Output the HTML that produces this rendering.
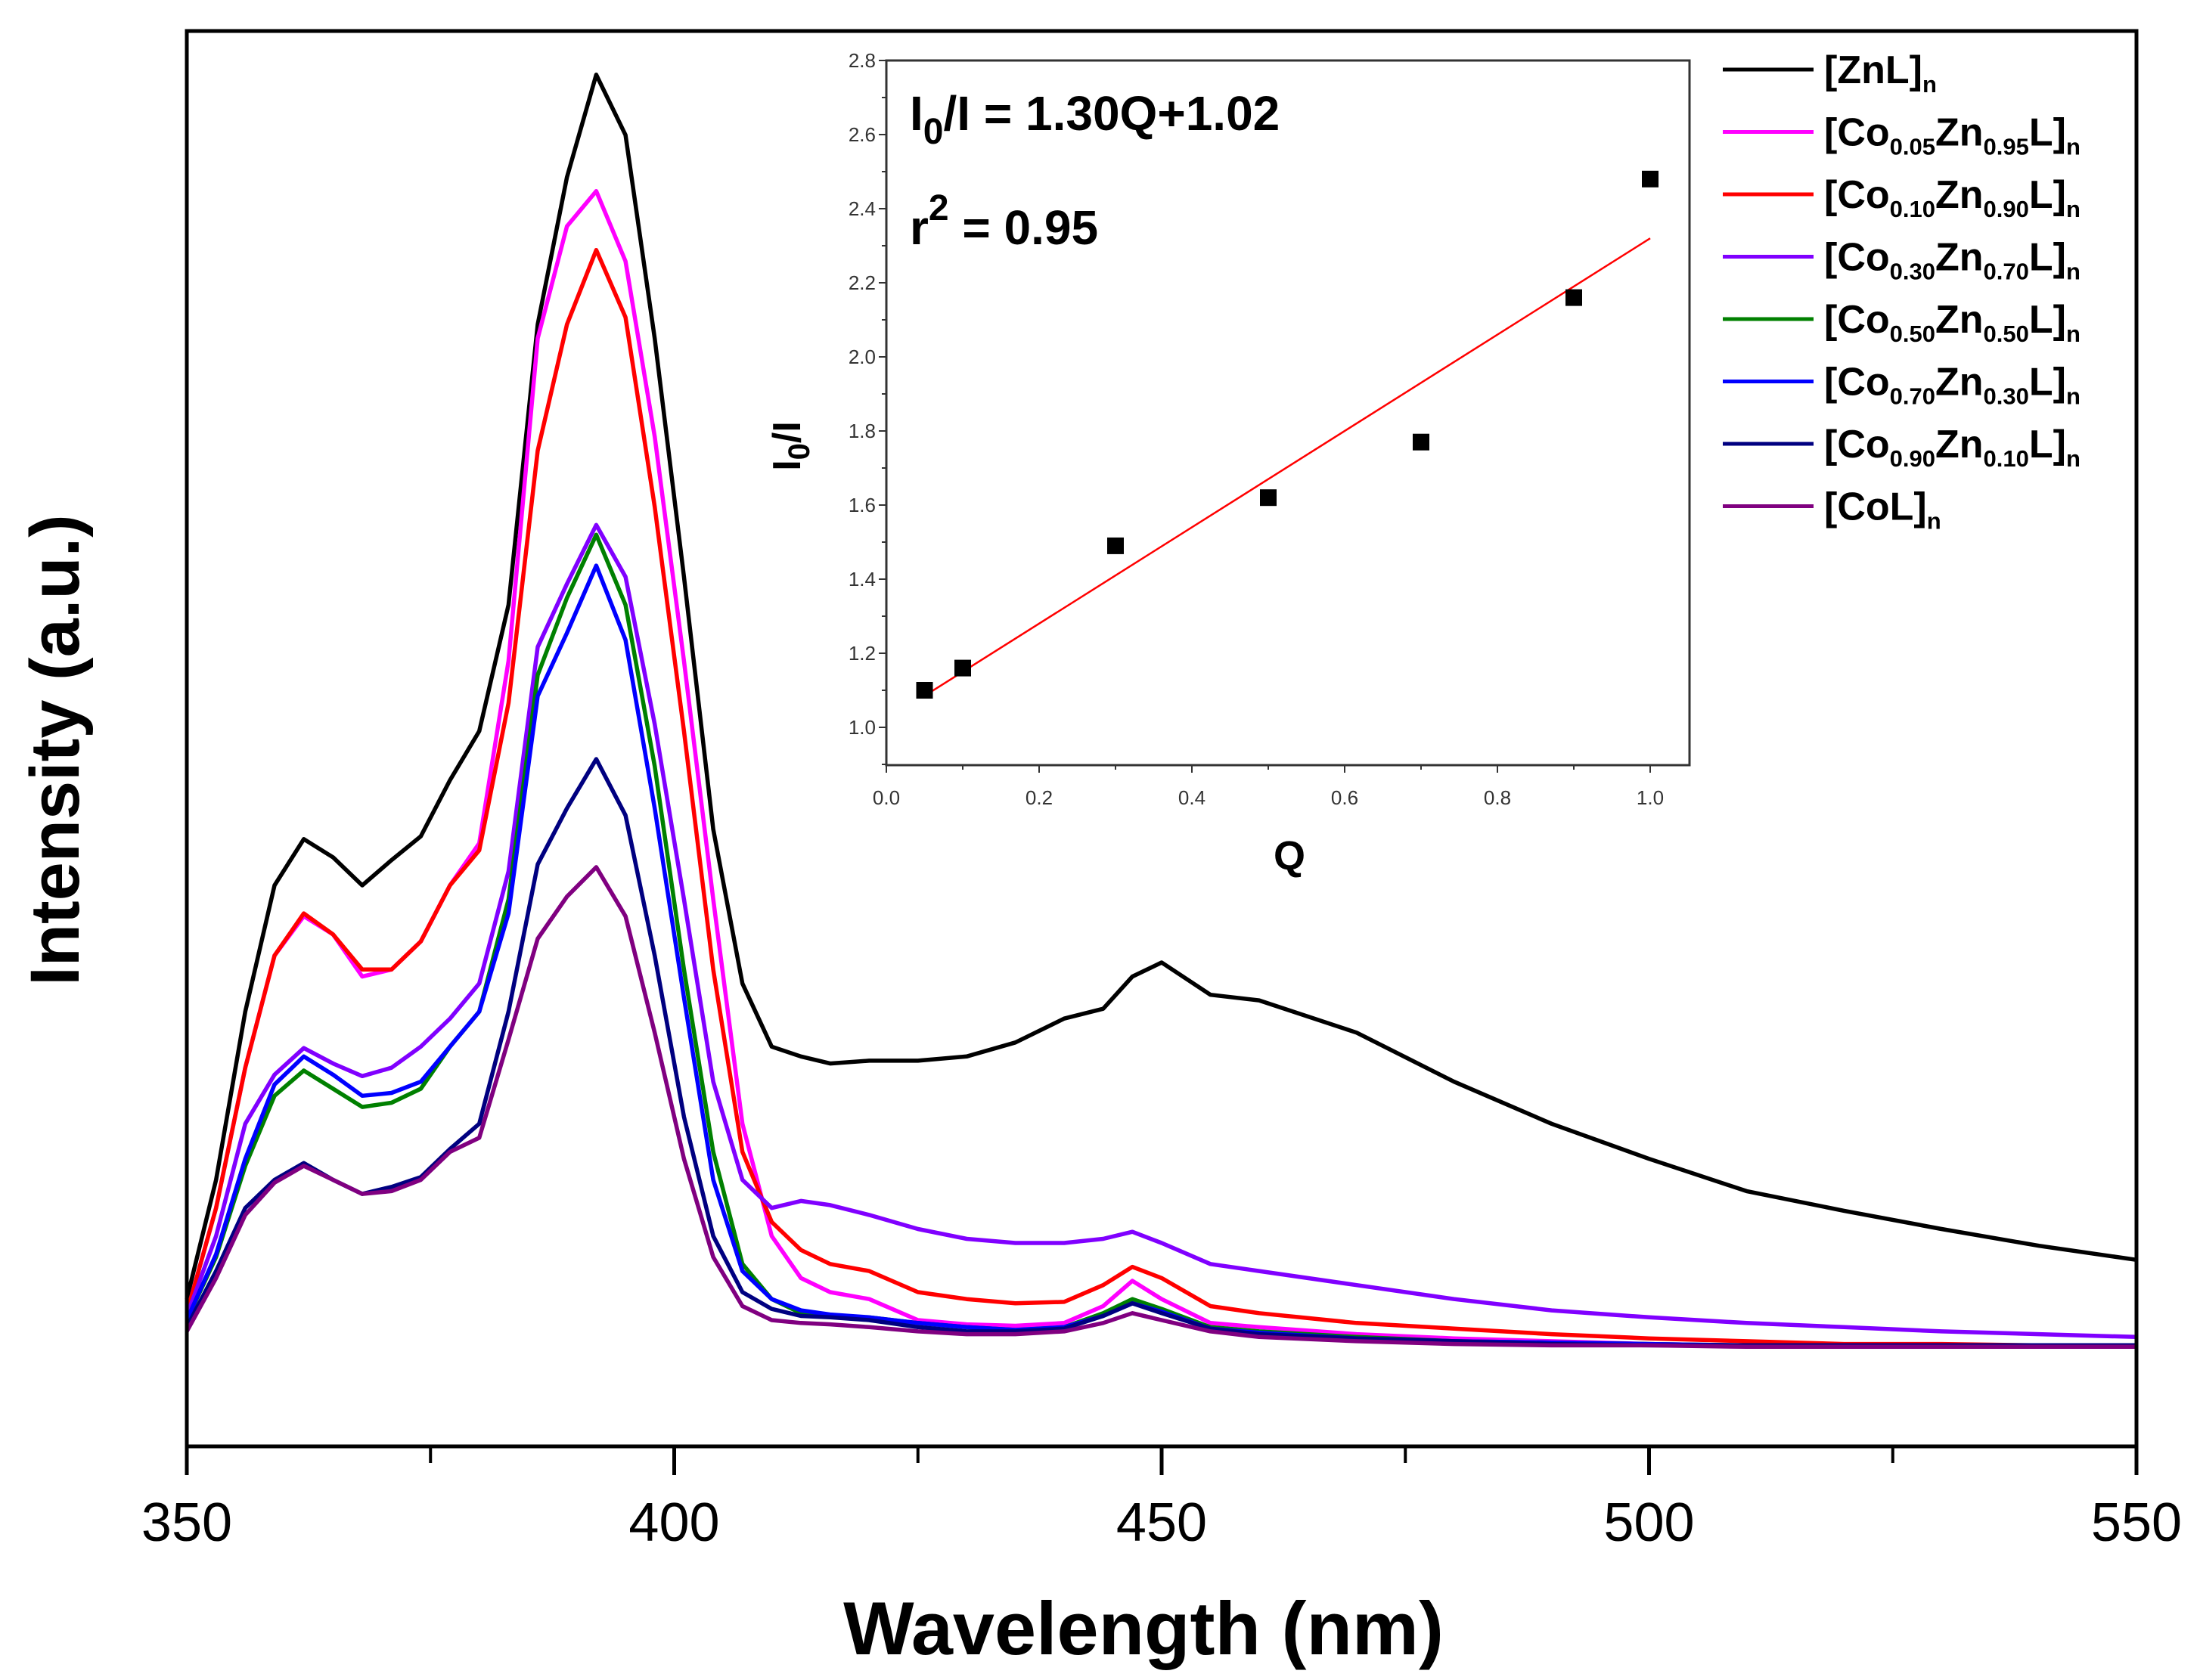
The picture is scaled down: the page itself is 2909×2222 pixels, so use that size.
<!DOCTYPE html>
<html><head><meta charset="utf-8"><style>
html,body{margin:0;padding:0;background:#fff}
svg{display:block}
text{font-family:"Liberation Sans",sans-serif}
</style></head><body>
<svg id="chart" width="2909" height="2222" viewBox="0 0 2909 2222" xmlns="http://www.w3.org/2000/svg"></svg>
<script>
const wavelengths=[350,353,356,359,362,365,368,371,374,377,380,383,386,389,392,395,398,401,404,407,410,413,416,420,425,430,435,440,444,447,450,455,460,470,480,490,500,510,520,530,540,550];
const seriesNames=["ZnL","Co0.05","Co0.10","Co0.30","Co0.50","Co0.70","Co0.90","CoL"];
const seriesColors=["#000000","#ff00ff","#ff0000","#8000ff","#008000","#0000ff","#000080","#800080"];
// values stored as ref-pixel y positions from source image (converted to intensity below)
const sZnL=[925,840,720,630,597,610,630,612,595,555,520,430,230,125,52,95,240,410,590,700,745,752,757,755,755,752,742,725,718,695,685,708,712,735,770,800,825,848,862,875,887,897];
const sCo05=[935,860,760,680,652,665,695,690,670,630,600,470,240,160,135,185,310,470,640,800,880,910,920,925,940,943,944,942,930,912,925,942,945,950,953,955,957,958,958,958,958,958];
const sCo10=[935,860,760,680,650,665,690,690,670,630,605,500,320,230,177,225,360,520,690,820,870,890,900,905,920,925,928,927,915,902,910,930,935,942,946,950,953,955,957,957,958,958];
const sCo30=[937,880,800,765,746,757,766,760,745,725,700,620,460,415,373,410,515,640,770,840,860,855,858,865,875,882,885,885,882,877,885,900,905,915,925,933,938,942,945,948,950,952];
const sCo50=[940,895,830,780,762,775,788,785,775,745,720,640,480,425,380,430,545,690,820,900,925,935,937,938,942,945,947,945,935,925,932,945,948,952,955,956,957,958,958,958,958,958];
const sCo70=[940,893,825,772,752,765,780,778,770,745,720,650,495,450,402,455,575,710,840,905,925,933,936,938,942,945,947,945,937,928,934,946,949,953,955,956,957,958,958,958,958,958];
const sCo90=[945,905,860,840,828,840,850,845,838,818,800,720,615,575,540,580,680,795,880,920,932,937,938,940,945,948,948,946,937,928,935,946,950,953,955,957,958,958,958,958,958,958];
const sCoL=[948,910,865,842,830,840,850,848,840,820,810,740,668,638,617,652,735,825,895,930,940,942,943,945,948,950,950,948,942,935,940,948,952,955,957,958,958,959,959,959,959,959];
const allSeries=[sZnL,sCo05,sCo10,sCo30,sCo50,sCo70,sCo90,sCoL];
const xTicks=[350,400,450,500,550];
const xMinor=[375,425,475,525];
const insetQ=[0.05,0.1,0.3,0.5,0.7,0.9,1.0];
const insetRatio=[1.10,1.16,1.49,1.62,1.77,2.16,2.48];
const insetYTicks=[1.0,1.2,1.4,1.6,1.8,2.0,2.2,2.4,2.6,2.8];
const insetXTicks=[0.0,0.2,0.4,0.6,0.8,1.0];
const fitSlope=1.30, fitIntercept=1.02;

const NS="http://www.w3.org/2000/svg";
const svg=document.getElementById('chart');
function mk(tag,attrs,parent){const e=document.createElementNS(NS,tag);for(const k in attrs)e.setAttribute(k,attrs[k]);(parent||svg).appendChild(e);return e;}

const L=247,R=2825,T=41,B=1913;
const xS=w=>L+(w-350)/200*(R-L);
const toInt=v=>1030-v;
const yS=i=>B-i*1.855;

const plot=mk('g',{});


allSeries.forEach((s,k)=>{
  let d='';
  s.forEach((v,i)=>{d+=(i?'L':'M')+xS(wavelengths[i]).toFixed(1)+' '+yS(toInt(v)).toFixed(1);});
  const p=mk('path',{d:d,fill:'none',stroke:seriesColors[k],'stroke-width':5.5,'stroke-linejoin':'round'},plot);
  
  
});
const frame=mk('rect',{x:L,y:T,width:R-L,height:B-T,fill:'none',stroke:'#000','stroke-width':5});


xTicks.forEach(t=>{
  const x=xS(t);
  const tk=mk('line',{x1:x,x2:x,y1:B,y2:B+38,stroke:'#000','stroke-width':5});
  
  
  const lb=mk('text',{x:x,y:2038,'font-size':72,'text-anchor':'middle'});
  lb.textContent=t;
  
  
});
xMinor.forEach(t=>{
  const x=xS(t);
  const tk=mk('line',{x1:x,x2:x,y1:B,y2:B+22,stroke:'#000','stroke-width':4});
  
  
});
const xt=mk('text',{x:1512,y:2188,'font-size':99,'font-weight':'bold','text-anchor':'middle'});
xt.textContent='Wavelength (nm)';


const yt=mk('text',{x:0,y:0,'font-size':92,'font-weight':'bold','text-anchor':'middle',transform:'translate(104,992) rotate(-90)'});
yt.textContent='Intensity (a.u.)';



const legLabels=[["[ZnL]",null,null],["[Co","0.05","0.95"],["[Co","0.10","0.90"],["[Co","0.30","0.70"],["[Co","0.50","0.50"],["[Co","0.70","0.30"],["[Co","0.90","0.10"],["[CoL]",null,null]];
const legend=mk('g',{});


legLabels.forEach((lab,i)=>{
  const y=92+i*82.5;
  const g=mk('g',{},legend);
  
  
  mk('line',{x1:2278,x2:2398,y1:y,y2:y,stroke:seriesColors[i],'stroke-width':5},g);
  const t=mk('text',{x:2412,y:y+18,'font-size':52,'font-weight':'bold'},g);
  if(lab[1]===null){
    t.textContent=lab[0];
    mk('tspan',{'font-size':31,dy:12},t).textContent='n';
  } else {
    t.appendChild(document.createTextNode('[Co'));
    mk('tspan',{'font-size':31,dy:12},t).textContent=lab[1];
    mk('tspan',{dy:-12},t).textContent='Zn';
    mk('tspan',{'font-size':31,dy:12},t).textContent=lab[2];
    mk('tspan',{dy:-12},t).textContent='L]';
    mk('tspan',{'font-size':31,dy:12},t).textContent='n';
  }
});

const iL=1172,iR=2234,iT=80,iB=1012;
const ixS=q=>iL+q/1.0*(2182-iL);
const iyS=v=>962-(v-1.0)*490;
const inset=mk('g',{});


const irect=mk('rect',{x:iL,y:iT,width:iR-iL,height:iB-iT,fill:'#fff',stroke:'#333','stroke-width':3},inset);


insetYTicks.forEach(v=>{
  const y=iyS(v);
  mk('line',{x1:iL-10,x2:iL,y1:y,y2:y,stroke:'#333','stroke-width':2},inset);
  mk('line',{x1:iL-6,x2:iL,y1:y+49,y2:y+49,stroke:'#333','stroke-width':2},inset);
  const t=mk('text',{x:iL-14,y:y+9,'font-size':26,'text-anchor':'end',fill:'#333'},inset);
  t.textContent=v.toFixed(1);
  
  
});
insetXTicks.forEach(v=>{
  const x=ixS(v);
  mk('line',{x1:x,x2:x,y1:iB,y2:iB+10,stroke:'#333','stroke-width':2},inset);
  if(x+101<iR) mk('line',{x1:x+101,x2:x+101,y1:iB,y2:iB+6,stroke:'#333','stroke-width':2},inset);
  const t=mk('text',{x:x,y:1064,'font-size':26,'text-anchor':'middle',fill:'#333'},inset);
  t.textContent=v.toFixed(1);
  
  
});
const fit=mk('line',{x1:ixS(0.05),y1:iyS(fitSlope*0.05+fitIntercept),x2:ixS(1.0),y2:iyS(fitSlope*1.0+fitIntercept),stroke:'#ff0000','stroke-width':2.5},inset);


insetQ.forEach((q,i)=>{
  const r=mk('rect',{x:ixS(q)-11,y:iyS(insetRatio[i])-11,width:22,height:22,fill:'#000'},inset);
  
  
});
const eq=mk('text',{x:1203,y:172,'font-size':64,'font-weight':'bold'},inset);
eq.appendChild(document.createTextNode('I'));
mk('tspan',{'font-size':48,dy:18},eq).textContent='0';
mk('tspan',{dy:-18},eq).textContent='/I = 1.30Q+1.02';


const r2=mk('text',{x:1203,y:323,'font-size':64,'font-weight':'bold'},inset);
r2.appendChild(document.createTextNode('r'));
mk('tspan',{'font-size':48,dy:-32},r2).textContent='2';
mk('tspan',{dy:32},r2).textContent=' = 0.95';


const qt=mk('text',{x:1705,y:1150,'font-size':54,'font-weight':'bold','text-anchor':'middle'},inset);
qt.textContent='Q';


const iyt=mk('text',{x:0,y:0,'font-size':52,'font-weight':'bold','text-anchor':'middle',transform:'translate(1058,590) rotate(-90)'},inset);
iyt.appendChild(document.createTextNode('I'));
mk('tspan',{'font-size':40,dy:12},iyt).textContent='0';
mk('tspan',{dy:-12},iyt).textContent='/I';


</script>
</body></html>
